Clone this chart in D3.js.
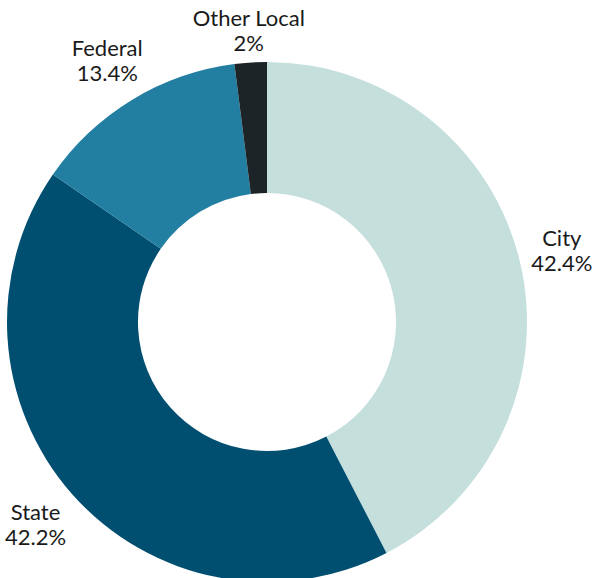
<!DOCTYPE html>
<html>
<head>
<meta charset="utf-8">
<script src="https://cdn.jsdelivr.net/npm/d3@7"></script>
<style>
  body { margin: 0; background: #fff; }
  svg text { font-family: Lato, "Open Sans", sans-serif; fill: #1a1a1a; }
</style>
</head>
<body>
<div id="chart"></div>
<script>
// funding share by source, clockwise from 12 o'clock
const categories = ["City", "State", "Federal", "Other Local"];
const shares = [42.4, 42.2, 13.4, 2];
const shareLabels = ["42.4%", "42.2%", "13.4%", "2%"];
const colors = ["#c5dfdd", "#004f71", "#237fa1", "#1d2428"];

let width = 592, height = 578;
let cx = 267, cy = 322, outer = 260, inner = 129;

// small nudges so the labels sit where the original put them
const labelNudge = {
  "City": [13, -4],
  "State": [-14, 10],
  "Federal": [-9, -15],
  "Other Local": [0, -3]
};

const svg = d3.select("#chart")
  .append("svg")
  .attr("width", width)
  .attr("height", height);

const data = categories.map((c, i) => ({ name: c, value: shares[i], label: shareLabels[i], color: colors[i] }));

const pie = d3.pie().sort(null).value(d => d.value);
const arc = d3.arc().innerRadius(inner).outerRadius(outer);
const labelArc = d3.arc().innerRadius(outer + 30).outerRadius(outer + 30);

const g = svg.append("g").attr("transform", "translate(" + cx + "," + cy + ")");

const arcs = pie(data);

g.selectAll("path")
  .data(arcs)
  .enter()
  .append("path")
  .attr("d", arc)
  .attr("fill", d => d.data.color);

const labels = g.selectAll("text")
  .data(arcs)
  .enter()
  .append("text")
  .attr("text-anchor", "middle")
  .attr("font-size", 22)
  .attr("transform", d => {
    let p = labelArc.centroid(d);
    let n = labelNudge[d.data.name] || [0, 0];
    return "translate(" + (p[0] + n[0]) + "," + (p[1] + n[1]) + ")";
  });

labels.append("tspan")
  .attr("x", 0)
  .attr("dy", "-0.15em")
  .text(d => d.data.name);

labels.append("tspan")
  .attr("x", 0)
  .attr("dy", 25)
  .text(d => d.data.label);
</script>
</body>
</html>
